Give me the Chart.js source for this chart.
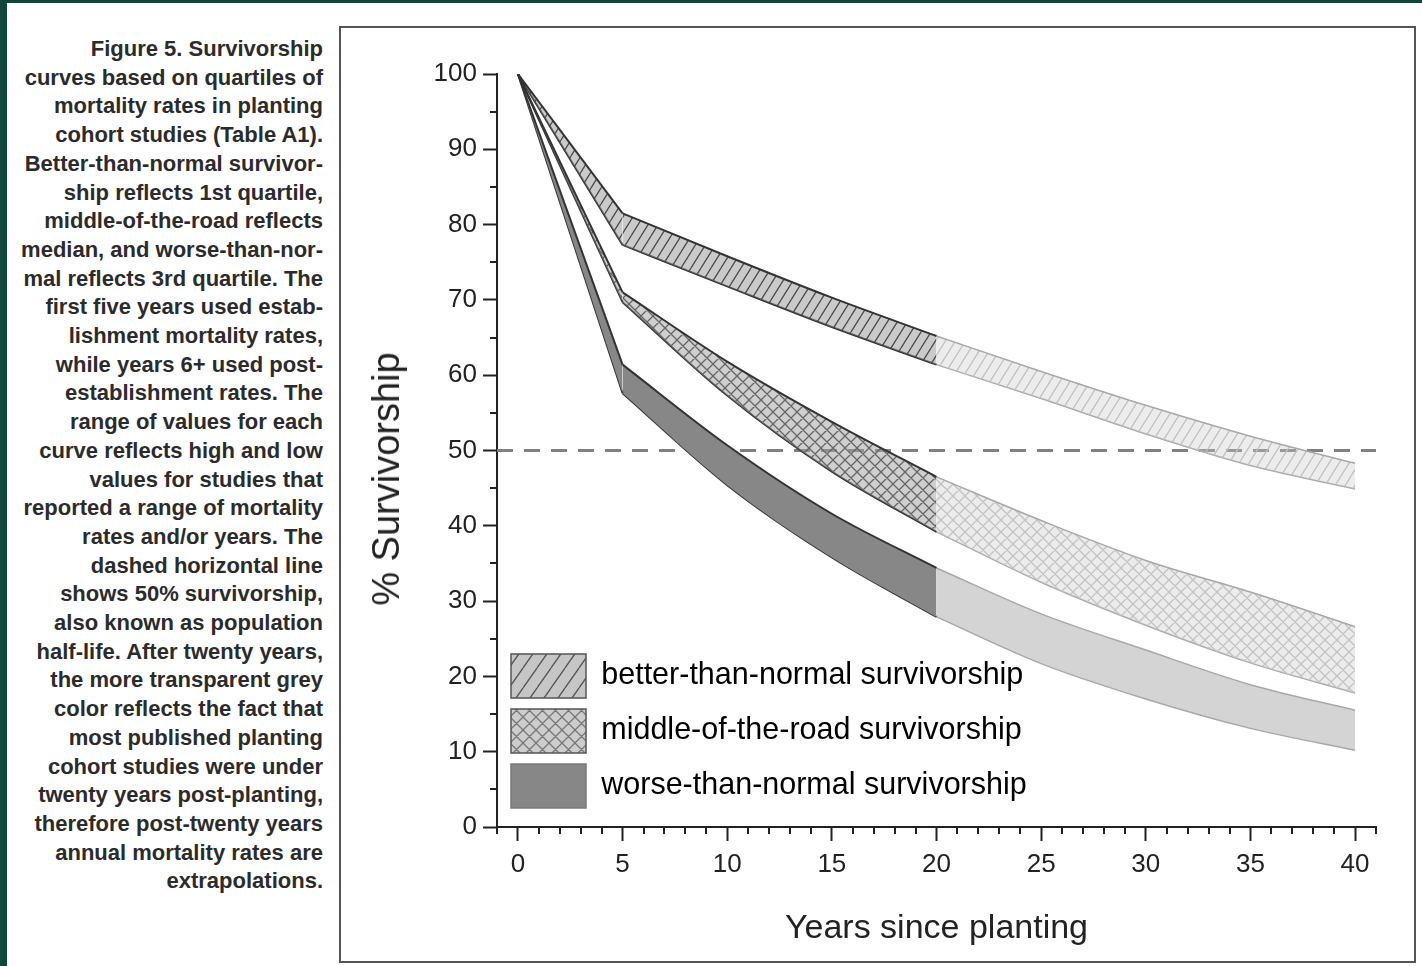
<!DOCTYPE html>
<html>
<head>
<meta charset="utf-8">
<script src="https://cdn.jsdelivr.net/npm/chart.js@4.4.1/dist/chart.umd.min.js"></script>
<style>
  html, body { margin: 0; padding: 0; }
  body {
    width: 1422px; height: 966px; position: relative; overflow: hidden;
    background: #10473a;
    font-family: "Liberation Sans", Arial, sans-serif;
  }
  #sheet { position: absolute; left: 7px; top: 3px; right: 0; bottom: 0; background: #fff; }
  #caption {
    position: absolute; left: 0; width: 323px; top: 35px;
    text-align: right; white-space: nowrap;
    font-weight: bold; font-size: 22px; line-height: 28.7px; color: #2b2b2b;
  }
  #frame { position: absolute; left: 339px; top: 26px; width: 1073px; height: 933px; border: 2px solid #555; }
  #chartBox { position: absolute; left: 341px; top: 28px; width: 1073px; height: 933px; }
  #yTitle {
    position: absolute; left: 386px; top: 479px;
    transform: translate(-50%, -50%) rotate(-90deg);
    font-size: 38px; line-height: 1; white-space: nowrap; color: #222;
  }
</style>
</head>
<body>
<div id="sheet"></div>
<div id="caption">
Figure 5. Survivorship<br>
curves based on quartiles of<br>
mortality rates in planting<br>
cohort studies (Table A1).<br>
Better-than-normal survivor-<br>
ship reflects 1st quartile,<br>
middle-of-the-road reflects<br>
median, and worse-than-nor-<br>
mal reflects 3rd quartile. The<br>
first five years used estab-<br>
lishment mortality rates,<br>
while years 6+ used post-<br>
establishment rates. The<br>
range of values for each<br>
curve reflects high and low<br>
values for studies that<br>
reported a range of mortality<br>
rates and/or years. The<br>
dashed horizontal line<br>
shows 50% survivorship,<br>
also known as population<br>
half-life. After twenty years,<br>
the more transparent grey<br>
color reflects the fact that<br>
most published planting<br>
cohort studies were under<br>
twenty years post-planting,<br>
therefore post-twenty years<br>
annual mortality rates are<br>
extrapolations.
</div>
<div id="frame"></div>
<div id="chartBox"><canvas id="chart"></canvas></div>
<div id="yTitle">% Survivorship</div>

<script>
const years = [0, 5, 10, 15, 20, 25, 30, 35, 40];

// % survivorship, upper and lower edge of each band
const betterUpper = [100, 81.5, 75.8, 70.3, 65.2, 60.5, 56.0, 51.9, 48.3];
const betterLower = [100, 77.3, 71.8, 66.4, 61.4, 56.9, 52.2, 48.0, 44.9];
const middleUpper = [100, 71.0, 61.8, 53.8, 46.5, 40.7, 35.4, 31.2, 26.6];
const middleLower = [100, 69.7, 57.3, 47.2, 39.2, 32.5, 26.8, 21.8, 17.8];
const worseUpper  = [100, 61.4, 50.7, 41.6, 34.4, 28.3, 23.5, 18.9, 15.5];
const worseLower  = [100, 57.6, 45.4, 35.8, 27.9, 21.7, 17.0, 13.1, 10.2];

const legendLabels = [
    'better-than-normal survivorship',
    'middle-of-the-road survivorship',
    'worse-than-normal survivorship'
];

const halfLife = 50;
const xRange = [-1, 41];
const yRange = [0, 100];
const xMajorTicks = [0, 5, 10, 15, 20, 25, 30, 35, 40];
const yMajorTicks = [0, 10, 20, 30, 40, 50, 60, 70, 80, 90, 100];
const xMinorTicks = [];
for (let v = xRange[0]; v <= xRange[1]; v++) if (v % 5 !== 0) xMinorTicks.push(v);
const yMinorTicks = [5, 15, 25, 35, 45, 55, 65, 75, 85, 95];

Chart.defaults.font.family = '"Liberation Sans", Arial, sans-serif';

function hatch(bg, line, w, h, cross) {
    const c = document.createElement('canvas');
    c.width = w;
    c.height = h;
    const g = c.getContext('2d');
    g.fillStyle = bg;
    g.fillRect(0, 0, w, h);
    g.strokeStyle = line;
    g.lineWidth = 1.3;
    g.beginPath();
    [-w, 0, w].forEach(dx => {
        g.moveTo(dx, h);
        g.lineTo(dx + w, 0);
        if (cross) {
            g.moveTo(dx, 0);
            g.lineTo(dx + w, h);
        }
    });
    g.stroke();
    return g.createPattern(c, 'repeat');
}

// which edge points belong to which piece of a band
const segments = [
    { from: 0, to: 1, curve: false, phase: 'dark' },   // establishment years
    { from: 1, to: 4, curve: true, phase: 'dark' },    // observed post-establishment
    { from: 4, to: 8, curve: true, phase: 'light' }    // extrapolated after 20 yrs
];

const bands = [
    {
        name: legendLabels[2], upper: worseUpper, lower: worseLower,
        dark: { fill: '#878787', border: '#333', width: 2 },
        light: { fill: 'rgba(170,170,170,0.5)', border: '#a8a8a8', width: 1.5 }
    },
    {
        name: legendLabels[1], upper: middleUpper, lower: middleLower,
        dark: { fill: hatch('rgba(160,160,160,0.5)', '#666', 12, 12, true), border: '#333', width: 2 },
        light: { fill: hatch('rgba(200,200,200,0.35)', '#c2c2c2', 12, 12, true), border: '#a8a8a8', width: 1.5 }
    },
    {
        name: legendLabels[0], upper: betterUpper, lower: betterLower,
        dark: { fill: hatch('rgba(150,150,150,0.5)', '#4a4a4a', 10, 16, false), border: '#333', width: 2 },
        light: { fill: hatch('rgba(200,200,200,0.35)', '#c0c0c0', 10, 16, false), border: '#a8a8a8', width: 1.5 }
    }
];

function points(vals, from, to) {
    return years.slice(from, to + 1).map((yr, i) => ({ x: yr, y: vals[from + i] }));
}

const datasets = [];
bands.forEach(band => {
    segments.forEach(seg => {
        const st = band[seg.phase];
        const common = {
            borderColor: st.border,
            borderWidth: st.width,
            pointRadius: 0,
            tension: 0,
            cubicInterpolationMode: seg.curve ? 'monotone' : 'default'
        };
        datasets.push(Object.assign({
            label: band.name,
            data: points(band.upper, seg.from, seg.to),
            backgroundColor: st.fill,
            fill: '+1'
        }, common));
        datasets.push(Object.assign({
            label: band.name + ' (low)',
            data: points(band.lower, seg.from, seg.to),
            fill: false
        }, common));
    });
});

datasets.push({
    label: '50% survivorship',
    data: [{ x: xRange[0], y: halfLife }, { x: xRange[1], y: halfLife }],
    borderColor: '#808080',
    borderWidth: 3,
    borderDash: [16, 11],
    pointRadius: 0,
    fill: false
});

const legendFills = [
    hatch('#c6c6c6', '#555', 14, 20, false),
    hatch('#cdcdcd', '#777', 13, 13, true),
    '#878787'
];

const minorTicks = {
    id: 'minorTicks',
    afterDraw(chart) {
        const { ctx, scales: { x, y } } = chart;
        ctx.save();
        ctx.strokeStyle = '#222';
        ctx.lineWidth = 2;
        ctx.beginPath();
        xMinorTicks.forEach(v => {
            const px = Math.round(x.getPixelForValue(v));
            ctx.moveTo(px, x.top);
            ctx.lineTo(px, x.top + 7);
        });
        yMinorTicks.forEach(v => {
            const py = Math.round(y.getPixelForValue(v));
            ctx.moveTo(y.right, py);
            ctx.lineTo(y.right - 7, py);
        });
        ctx.stroke();
        ctx.restore();
    }
};

// the chartArea legend is laid out from the canvas top, push it down into the plot
const legendNudge = {
    id: 'legendNudge',
    afterLayout(chart) {
        const lg = chart.legend;
        if (!lg) return;
        const dy = chart.chartArea.top - 8;
        lg.top += dy;
        lg.bottom += dy;
        lg.left += 3;
    }
};

new Chart(document.getElementById('chart'), {
    type: 'line',
    data: { datasets: datasets },
    plugins: [minorTicks, legendNudge],
    options: {
        responsive: true,
        maintainAspectRatio: false,
        animation: false,
        layout: { padding: { left: 0, top: 46, right: 38, bottom: 0 } },
        plugins: {
            tooltip: { enabled: false },
            legend: {
                position: 'chartArea',
                align: 'end',
                labels: {
                    boxWidth: 75,
                    boxHeight: 44,
                    padding: 11,
                    color: '#222',
                    font: { size: 30.5 },
                    generateLabels: () => legendLabels.map((text, i) => ({
                        text: text,
                        fillStyle: legendFills[i],
                        strokeStyle: i === 2 ? '#7a7a7a' : '#555',
                        lineWidth: 1.5,
                        hidden: false,
                        datasetIndex: i
                    }))
                }
            }
        },
        scales: {
            x: {
                type: 'linear',
                min: xRange[0],
                max: xRange[1],
                afterBuildTicks: s => { s.ticks = xMajorTicks.map(v => ({ value: v })); },
                afterFit: s => { s.height = 134; },
                ticks: { autoSkip: false, maxRotation: 0, color: '#222', font: { size: 26 }, padding: 8 },
                grid: { drawOnChartArea: false, tickLength: 14, tickWidth: 2, tickColor: '#222' },
                border: { color: '#222', width: 2 },
                title: {
                    display: true,
                    text: 'Years since planting',
                    color: '#222',
                    font: { size: 34 },
                    padding: { top: 0, bottom: 12 }
                }
            },
            y: {
                min: yRange[0],
                max: yRange[1],
                afterBuildTicks: s => { s.ticks = yMajorTicks.map(v => ({ value: v })); },
                afterFit: s => { s.width = 156; },
                ticks: { autoSkip: false, color: '#222', font: { size: 26 }, padding: 6 },
                grid: { drawOnChartArea: false, tickLength: 14, tickWidth: 2, tickColor: '#222' },
                border: { color: '#222', width: 2 }
            }
        }
    }
});
</script>
</body>
</html>
